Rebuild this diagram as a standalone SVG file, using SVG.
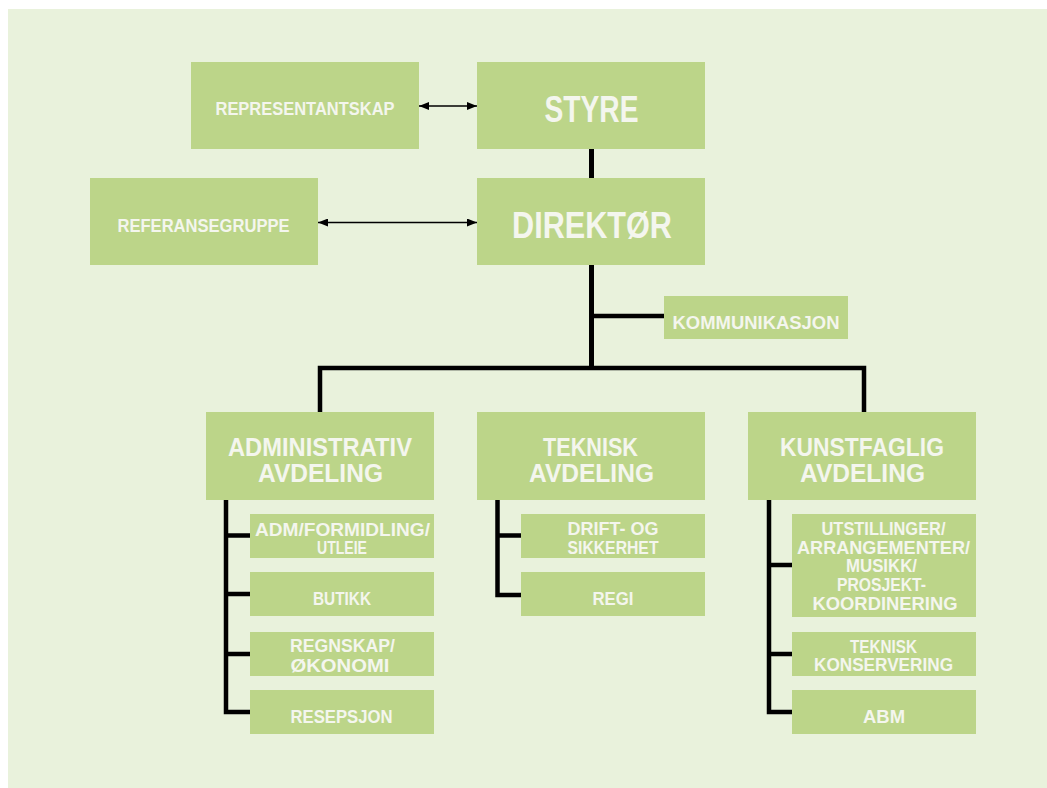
<svg xmlns="http://www.w3.org/2000/svg" width="1047" height="788" viewBox="0 0 1047 788">
<defs>
<style>
.box{fill:#bcd589;}
.t{font-family:"Liberation Sans",Arial,sans-serif;font-weight:bold;fill:#f4f6ee;text-anchor:middle;}
.xl{font-size:36px;}
.l{font-size:25px;}
.m{font-size:19px;}
.s{font-size:19px;}
.s2{font-size:17.5px;}
.ln{fill:none;stroke:#000;stroke-width:5;stroke-linejoin:miter;stroke-linecap:butt;}
.ln4{fill:none;stroke:#000;stroke-width:4.5;stroke-linejoin:miter;stroke-linecap:butt;}
.ar{fill:none;stroke:#000;stroke-width:1.5;}
</style>
<marker id="ah" viewBox="0 0 10 8" refX="10" refY="4" markerWidth="10" markerHeight="8" markerUnits="userSpaceOnUse" orient="auto-start-reverse">
<path d="M0 0 L10 4 L0 8 Z" fill="#000"/>
</marker>
</defs>
<rect x="0" y="0" width="1047" height="788" fill="#ffffff"/>
<rect x="8" y="9" width="1039" height="779" fill="#e9f2dc"/>

<g id="connectors">
<path class="ln" d="M591.5 149 V178"/>
<path class="ln" d="M591.5 265 V368"/>
<path class="ln4" d="M591.5 316 H664"/>
<path class="ln4" d="M320 412 V368 H864 V412"/>
<path class="ln4" d="M226 499 V712 H250 M226 535.5 H250 M226 594 H250 M226 654 H250"/>
<path class="ln4" d="M497.5 499 V595 H521 M497.5 535.5 H521"/>
<path class="ln4" d="M769 499 V712 H792 M769 565 H792 M769 654 H792"/>
<line class="ar" x1="419" y1="106" x2="477" y2="106" marker-start="url(#ah)" marker-end="url(#ah)"/>
<line class="ar" x1="318" y1="222.5" x2="477" y2="222.5" marker-start="url(#ah)" marker-end="url(#ah)"/>
</g>

<g id="representantskap">
<rect class="box" x="191" y="62" width="228" height="87"/>
<text class="t m" x="305" y="115" font-size="18" textLength="179" lengthAdjust="spacingAndGlyphs">REPRESENTANTSKAP</text>
</g>
<g id="styre">
<rect class="box" x="477" y="62" width="228" height="87"/>
<text class="t xl" x="591.5" y="122" textLength="94" lengthAdjust="spacingAndGlyphs">STYRE</text>
</g>
<g id="referansegruppe">
<rect class="box" x="90" y="178" width="228" height="87"/>
<text class="t m" x="203.5" y="231.5" textLength="172" lengthAdjust="spacingAndGlyphs">REFERANSEGRUPPE</text>
</g>
<g id="direktor">
<rect class="box" x="477" y="178" width="228" height="87"/>
<text class="t xl" x="592" y="238" textLength="160" lengthAdjust="spacingAndGlyphs">DIREKTØR</text>
</g>
<g id="kommunikasjon">
<rect class="box" x="664" y="296" width="184" height="43"/>
<text class="t" x="756" y="329" font-size="18" textLength="167" lengthAdjust="spacingAndGlyphs">KOMMUNIKASJON</text>
</g>

<g id="administrativ">
<rect class="box" x="206" y="412" width="228" height="88"/>
<text class="t l" x="320" y="456" textLength="184" lengthAdjust="spacingAndGlyphs">ADMINISTRATIV</text>
<text class="t l" x="320.5" y="481.5" textLength="125" lengthAdjust="spacingAndGlyphs">AVDELING</text>
</g>
<g id="teknisk">
<rect class="box" x="477" y="412" width="228" height="88"/>
<text class="t l" x="590.5" y="456" textLength="95" lengthAdjust="spacingAndGlyphs">TEKNISK</text>
<text class="t l" x="591.5" y="481.5" textLength="125" lengthAdjust="spacingAndGlyphs">AVDELING</text>
</g>
<g id="kunstfaglig">
<rect class="box" x="748" y="412" width="228" height="88"/>
<text class="t l" x="862" y="456" textLength="164" lengthAdjust="spacingAndGlyphs">KUNSTFAGLIG</text>
<text class="t l" x="862.5" y="481.5" textLength="125" lengthAdjust="spacingAndGlyphs">AVDELING</text>
</g>

<g id="adm-formidling">
<rect class="box" x="250" y="514" width="184" height="44"/>
<text class="t s2" x="342.5" y="535.5" textLength="175" lengthAdjust="spacingAndGlyphs">ADM/FORMIDLING/</text>
<text class="t s2" x="342" y="553.5" textLength="50" lengthAdjust="spacingAndGlyphs">UTLEIE</text>
</g>
<g id="butikk">
<rect class="box" x="250" y="572" width="184" height="44"/>
<text class="t s" x="342" y="605" textLength="58" lengthAdjust="spacingAndGlyphs">BUTIKK</text>
</g>
<g id="regnskap">
<rect class="box" x="250" y="632" width="184" height="44"/>
<text class="t s2" x="342.5" y="651.5" textLength="105" lengthAdjust="spacingAndGlyphs">REGNSKAP/</text>
<text class="t s2" x="340" y="671.5" textLength="99" lengthAdjust="spacingAndGlyphs">ØKONOMI</text>
</g>
<g id="resepsjon">
<rect class="box" x="250" y="690" width="184" height="44"/>
<text class="t s" x="341.5" y="722.5" textLength="102" lengthAdjust="spacingAndGlyphs">RESEPSJON</text>
</g>

<g id="drift">
<rect class="box" x="521" y="514" width="184" height="44"/>
<text class="t s2" x="613" y="534.5" textLength="91" lengthAdjust="spacingAndGlyphs">DRIFT- OG</text>
<text class="t s2" x="613" y="553.5" textLength="91" lengthAdjust="spacingAndGlyphs">SIKKERHET</text>
</g>
<g id="regi">
<rect class="box" x="521" y="572" width="184" height="44"/>
<text class="t s" x="613" y="604.5" textLength="41" lengthAdjust="spacingAndGlyphs">REGI</text>
</g>

<g id="utstillinger">
<rect class="box" x="792" y="514" width="184" height="103"/>
<text class="t s2" x="883.5" y="534.5" textLength="124" lengthAdjust="spacingAndGlyphs">UTSTILLINGER/</text>
<text class="t s2" x="883.5" y="553.5" textLength="173" lengthAdjust="spacingAndGlyphs">ARRANGEMENTER/</text>
<text class="t s2" x="881.5" y="572" textLength="71" lengthAdjust="spacingAndGlyphs">MUSIKK/</text>
<text class="t s2" x="881.5" y="590.5" textLength="89" lengthAdjust="spacingAndGlyphs">PROSJEKT-</text>
<text class="t s2" x="885" y="609.5" textLength="145" lengthAdjust="spacingAndGlyphs">KOORDINERING</text>
</g>
<g id="teknisk-konservering">
<rect class="box" x="792" y="632" width="184" height="44"/>
<text class="t s2" x="883.5" y="652.5" textLength="67" lengthAdjust="spacingAndGlyphs">TEKNISK</text>
<text class="t s2" x="883.5" y="671" textLength="139" lengthAdjust="spacingAndGlyphs">KONSERVERING</text>
</g>
<g id="abm">
<rect class="box" x="792" y="690" width="184" height="44"/>
<text class="t s" x="884" y="722.5" textLength="42" lengthAdjust="spacingAndGlyphs">ABM</text>
</g>
</svg>
